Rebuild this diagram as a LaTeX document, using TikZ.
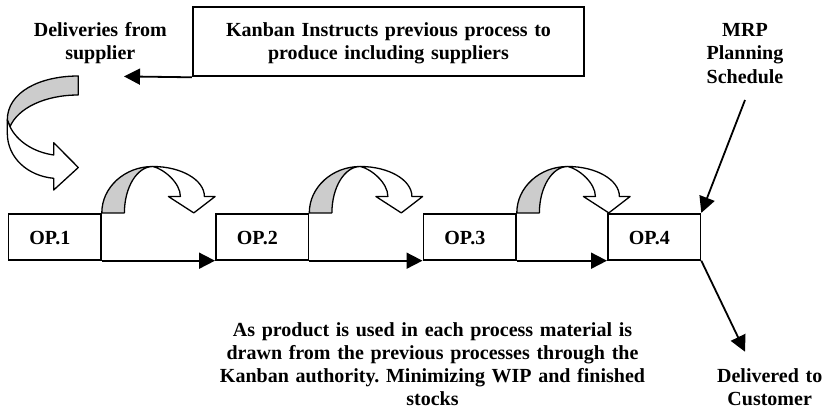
\documentclass[tikz,border=0pt]{standalone}
\usepackage{fontspec}
\setmainfont{Liberation Serif}
\usetikzlibrary{arrows.meta}
\definecolor{ribbongrey}{gray}{0.8}
\frenchspacing
\begin{document}
\begin{tikzpicture}[x=1pt,y=-1pt,
  every node/.style={font=\bfseries\fontsize{20}{23.2}\selectfont},
  caption/.style={align=center, inner sep=0pt, anchor=base},
  opbox/.style={draw, line width=1.8pt, minimum width=92.5pt, minimum height=46pt,
    text width=50.5pt, inner xsep=21pt, inner ysep=0pt, align=left,
    text height=16pt, text depth=0pt, anchor=south west},
  flow/.style={line width=1.8pt, -{Triangle[length=16pt,width=16pt]}},
  ribbon/.style={line width=1.3pt, line join=round},
  loopback/.pic={
    % rear (shaded) face of the ribbon
    \filldraw[ribbon, fill=ribbongrey]
      (0,0) .. controls (0,-25.6) and (22.8,-46.4) .. (51,-46.4)
      .. controls (35.3,-46.4) and (22.6,-25.6) .. (22.6,0) -- cycle;
    % front face ending in the arrow head
    \filldraw[ribbon, fill=white]
      (51,-46.4) .. controls (79.5,-46.4) and (102.6,-33) .. (102.6,-16.4)
      -- (113.3,-16.4) -- (92,0) -- (66.6,-16.4) -- (78.6,-16.4)
      .. controls (78.6,-30) and (62,-44) .. (51,-46.4) -- cycle;
  }
]
\useasboundingbox (0,0) rectangle (837,409);

% process boxes
\node[opbox] (op1) at (7.5,260.7) {OP.1};
\node[opbox] (op2) at (215,260.7) {OP.2};
\node[opbox] (op3) at (422.5,260.7) {OP.3};
\node[opbox] (op4) at (607,260.7) {OP.4};

% material flow between processes
\draw[flow] (op1.south east) -- (op2.south west);
\draw[flow] (op2.south east) -- (op3.south west);
\draw[flow] (op3.south east) -- (op4.south west);

% kanban pull loops
\pic at (op1.north east) {loopback};
\pic at (op2.north east) {loopback};
\pic at (op3.north east) {loopback};

% incoming deliveries ribbon
\filldraw[ribbon, fill=ribbongrey]
  (78.3,76) .. controls (40,76) and (7.3,92) .. (7.3,120)
  -- (10,126.7) .. controls (18,108) and (45,95) .. (78.3,95) -- cycle;
\filldraw[ribbon, fill=white]
  (7.3,120) -- (7.3,133) .. controls (7.3,158) and (28,176) .. (53.7,178.3)
  -- (53.7,190) -- (78.3,167.5) -- (53.7,142.7) -- (53.7,155)
  .. controls (33,152) and (17,141) .. (10,126.7) -- cycle;

% texts
\node[caption, text width=170pt] (supplier) at (100.3,36.7) {Deliveries from\\supplier};
\node[draw, line width=1.8pt, inner sep=0pt, minimum width=391.6pt, minimum height=69pt,
  text width=391.6pt, align=center, text height=20pt, text depth=30.4pt]
  (kanban) at (388.5,41.9) {Kanban Instructs previous process to\\produce including suppliers};
\node[caption, text width=130pt] (mrp) at (745,36.7) {MRP\\Planning\\Schedule};
\node[caption, text width=440pt] (note) at (432.5,336)
  {As product is used in each process material is\\drawn from the previous processes through the\\Kanban authority. Minimizing WIP and finished\\stocks};
\node[caption, text width=140pt] (customer) at (769.7,382.5) {Delivered to\\Customer};

% instruction and schedule arrows
\coordinate (supplierin) at (124,76.4);
\coordinate (mrpstart) at (745,100);
\coordinate (custend) at (745,351.7);
\draw[flow] (kanban.south west) -- (supplierin);
\draw[flow] (mrpstart) -- (op4.north east);
\draw[flow] (op4.south east) -- (custend);
\end{tikzpicture}
\end{document}
